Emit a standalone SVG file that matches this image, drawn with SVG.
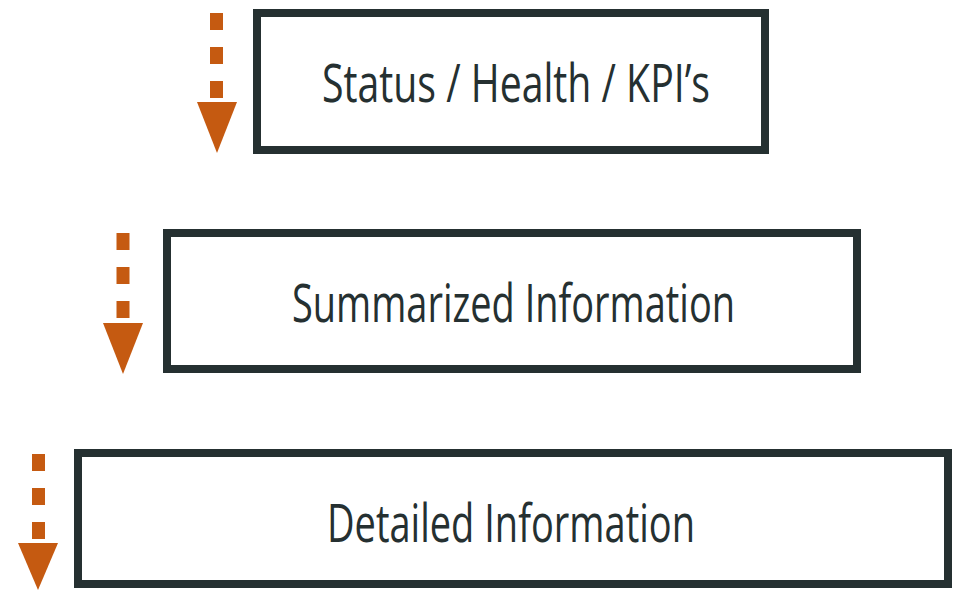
<svg xmlns="http://www.w3.org/2000/svg" width="954" height="590" viewBox="0 0 954 590">
<style>
.box{fill:#ffffff;stroke:#253031;stroke-width:8}
.lbl{font-family:"Open Sans","Liberation Sans",Arial,sans-serif;font-weight:500;font-size:53px;fill:#253031}
.dash{stroke:#C55A11;stroke-width:13;stroke-dasharray:17 17;fill:none}
.head{fill:#C55A11}
</style>
<rect width="954" height="590" fill="#ffffff"/>
<g id="connectors">
<g id="arrow1"><line class="dash" x1="216.5" y1="13" x2="216.5" y2="99"/><polygon class="head" points="197,102 237,102 217,153"/></g>
<g id="arrow2"><line class="dash" x1="123" y1="233" x2="123" y2="319"/><polygon class="head" points="103,323 143,323 123,374"/></g>
<g id="arrow3"><line class="dash" x1="38.5" y1="454" x2="38.5" y2="540"/><polygon class="head" points="18,543 58,543 38,590"/></g>
</g>
<g id="node1"><rect class="box" x="257" y="13" width="508" height="137"/><text class="lbl" x="322" y="102" textLength="388" lengthAdjust="spacingAndGlyphs">Status / Health / KPI’s</text></g>
<g id="node2"><rect class="box" x="167" y="233" width="690" height="136"/><text class="lbl" x="292" y="322" textLength="443" lengthAdjust="spacingAndGlyphs">Summarized Information</text></g>
<g id="node3"><rect class="box" x="78" y="453" width="870" height="131"/><text class="lbl" x="327" y="542" textLength="368" lengthAdjust="spacingAndGlyphs">Detailed Information</text></g>
</svg>
